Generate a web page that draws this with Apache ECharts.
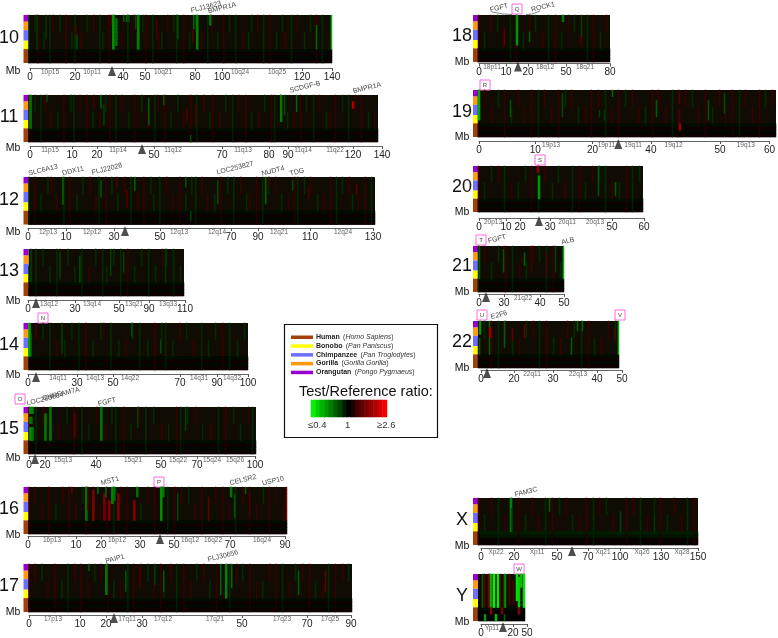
<!DOCTYPE html>
<html>
<head>
<meta charset="utf-8">
<style>html,body{margin:0;padding:0;background:#fff}#main{width:778px;height:638px}</style>
<script src="https://cdn.jsdelivr.net/npm/echarts@6/dist/echarts.min.js"></script>
</head>
<body>
<div id="main"></div>
<script>
// strong lines: [Mb, log2 ratio, first row, last row], rows 0-13 top to bottom
const chr10Cells = [[4,-.3,0,9],[8,-.3,0,6],[22,.45,3,6],[22.4,-.4,6,9],[38.4,.5,0,2],[39.1,-.8,0,9],[40.2,-.6,1,8],[44,-.5,0,1],[45.3,-.55,0,1],[46.5,-.45,0,1],[49.6,-.4,0,3],[50.3,-.7,0,9],[59.4,.4,1,6],[69,-.4,0,6],[75.7,.4,4,7],[76.3,-.55,0,3],[77.8,-.7,0,9],[83.4,-.6,0,2],[132.8,-.55,3,9],[139.9,-1,0,9]];
const chr11Cells = [[.7,-.65,0,9],[7.3,-.4,0,1],[26,.35,0,3],[29,-.5,0,3],[30,-.35,3,8],[48,-.5,1,8],[54,-.45,0,2],[63.5,.4,4,7],[67,.4,3,8],[101,-.65,0,7],[102.5,-.4,0,5],[107.5,-.55,0,4],[129.6,.9,2,3],[65,-.35,12,13]];
const chr12Cells = [[13,-.55,0,7],[27,-.45,1,5],[33,.4,0,2],[37,.45,4,8],[40,-.5,0,3],[59,-.45,0,2],[61,-.35,10,12],[71,-.4,1,7],[89,-.55,0,7],[90,.4,0,2],[99,-.4,1,3],[105,.4,3,6],[123,.5,2,4]];
const chr13Cells = [[2,-.35,0,9],[22,-.35,1,8],[36,-.4,2,9],[58,-.35,0,7],[67,-.35,1,6],[97,-.3,0,9]];
const chr14Cells = [[.3,-.9,0,9],[1,-.55,3,9],[3.3,.4,1,3],[15,-.35,0,8],[47,-.4,0,3],[60,-.4,5,8]];
const chr15Cells = [[.6,-.8,0,1],[1.6,-.7,0,1],[.6,-.7,3,4],[1.6,-.55,3,4],[.6,-.8,6,9],[1.6,-.65,6,9],[7.3,-.65,2,9],[9.5,-.65,0,9],[20.5,.5,2,8],[32,-.65,0,9],[48,-.35,0,5],[69,-.35,0,6]];
const chr16Cells = [[15,.5,0,1],[20,-.65,0,9],[20.6,.4,0,6],[22.4,.7,1,9],[24,-.55,0,1],[26.3,.65,2,9],[26.8,-.55,0,2],[28,.7,4,9],[29,-.7,0,4],[29.7,-.6,0,3],[31,.7,2,9],[36.5,.7,4,9],[37.7,-.6,0,2],[46,-.75,0,9],[46.6,-.65,0,2],[52,-.4,2,9],[62.6,.5,3,9],[70.5,-.6,0,2],[71.8,-.45,2,8],[75.5,-.5,0,1],[77,.4,2,7],[89.7,.6,0,9]];
const chr17Cells = [[16.7,-.5,0,1],[21.6,-.65,0,8],[27,-.45,2,7],[31,.4,1,6],[35,-.35,0,5],[37.6,-.5,2,7],[53.4,-.55,0,8],[54.8,-.7,0,9],[56.6,-.55,0,6],[75,-.5,2,8],[82.6,.5,2,7]];
const chr18Cells = [[16.2,.5,4,8],[23.3,-.8,0,8],[31.4,-.5,5,7],[51,-.65,0,1],[62.8,-.35,0,6],[62,.35,6,8]];
const chr19Cells = [[.2,-.9,0,8],[6.5,-.45,3,7],[17,-.4,1,7],[24.4,-.35,6,7],[25.5,-.3,6,8],[27,-.55,0,1],[36,-.5,3,7],[40.5,.45,1,3],[40.5,.4,6,9],[40.5,.8,10,11],[46.4,-.45,3,8],[49.7,-.4,1,6]];
const chr20Cells = [[21.8,.75,0,1],[22,-.8,3,9],[44,-.45,0,8],[50,-.5,5,8]];
const chr21Cells = [[1,-.5,0,9],[14.6,-.45,1,7],[27,-.5,2,5],[31,.35,0,7],[40,.35,2,8],[45,-.35,0,7],[49.7,-.95,0,9]];
const chr22Cells = [[.6,-.8,0,3],[.6,-.5,5,9],[4.1,-.55,0,1],[4.1,.8,2,4],[4.1,-.5,5,9],[9.5,-.5,0,7],[12.4,.5,2,5],[16.5,.55,1,4],[33,-.5,5,9],[35.4,-.5,0,2],[37.2,-.5,0,2],[48.5,.4,2,5],[49.9,-.9,0,9]];
const chrXCells = [[22,-.7,0,9],[23,-.4,3,9],[49,-.5,0,3],[97,-.35,4,9],[120,-.3,5,9]];
const chrYCells = [[4.4,-.5,0,9],[6.5,.5,0,9],[11,.6,0,9],[13.5,-.9,0,9],[16,-1.3,0,9],[20.5,-1.25,0,9],[24,.5,0,9],[28,-.7,0,9],[33,.45,0,8],[38,.4,2,8],[41,-1.2,0,7],[43,-1.1,1,9],[45.5,-1,0,3],[48,-1.2,0,9],[13.5,.7,10,11],[6.5,-.8,12,13],[19,-1,12,13],[25,.6,10,11],[43,.7,10,11],[28,-.5,12,13]];

// faint lines estimated by eye, one letter for about every 3 pixels along the chromosome:
// g/h/k green in rows 0-9 / 0-4 / 5-9, r/s/t red in the same rows
const chr10Faint = 'g.hr.k.gs.h.r.kg.t.h.s.gk.r.h.t.g.sk.hr.g.tk.s.hg.r.k.h.t.gs.k.r.h.g.t.kh.s.g.r.k.ht.g.s.k.h.r.g.t';
const chr11Faint = 'r.h.gs.t.k.r.hg.s.r.k.t.hr.g.s.k.r.h.t.gs.r.k.h.t.r.g.s.kr.t.h.g.s.r.k.t.h.rg.s.k.t.r.h.g.s.kt.r.h.g.s.r.k.t';
const chr12Faint = 'g.r.k.hs.t.g.r.k.h.s.tg.r.h.k.s.g.t.r.hk.g.s.t.r.k.hg.s.t.k.r.h.g.s.kt.r.g.h.s.k.t.rg.h.s.k.t.r.g.h.sk.t.r.g';
const chr13Faint = 'k.g.h.k.gs.h.k.g.t.h.gk.h.g.r.k.h.g.k.sh.g.k';
const chr14Faint = 'k.s.h.g.t.k.h.g.r.k.hs.g.k.t.h.g.k.r.hg.k.s.h.t.g.k.h.r.g.k.h';
const chr15Faint = 'r.g.s.k.t.h.r.g.k.s.t.hg.r.k.s.g.h.t.k.rg.h.s.k.t.g.r.h.k.sg';
const chr16Faint = 'r.s.t.r.k.s.r.t.hr.s.t.r.g.s.r.t.k.s.r.t.g.r.s.h.t.r.k.s.r.t.g.s.r.t.h.r.s.t';
const chr17Faint = 'r.s.h.t.r.k.g.s.r.t.h.s.r.k.t.g.r.s.h.t.rk.s.g.r.t.h.s.k.r.t.g.s.h.r.t.k.s.r.g.t.h.s.r.k.t.g.r.s.h';
const chr18Faint = 'r.k.s.h.t.g.r.k.s.h.t.g.r.k.s.h.t.g.r.k.s';
const chr19Faint = 'r.s.t.h.r.k.s.t.r.g.s.t.r.h.s.k.t.r.s.g.t.r.h.s.t.k.r.s.t.g.r.s.h.t.r.k.s.t.r.g.s.t.r.h.s';
const chr20Faint = 'r.k.h.s.g.t.k.h.r.g.s.k.h.t.g.r.k.s.h.g.t.k.r.g.h';
const chr21Faint = 'g.s.k.h.r.g.t.k.s.h.g.r.k';
const chr22Faint = 't.h.r.g.s.k.t.h.s.g.r.k.t.s.h.g.r.k.t.s.h';
const chrXFaint = 'r.k.s.g.t.h.r.k.s.t.g.r.h.s.k.t.r.g.s.h.t.k.r.s.g.t.h.r.k.s.t.g.r';
const chrYFaint = '';
// faint tint of a letter, which rows it touches, and its weaker tint in the human rows
const faintTint = {g: -.24, h: -.24, k: -.24, r: .3, s: .3, t: .3};
const faintRows = {g: [0, 9], h: [0, 4], k: [5, 9], r: [0, 9], s: [0, 4], t: [5, 9]};
const humanTint = {g: -.16, r: .18};
// whole rows with a steady tint [row, log2 ratio]
const humanRows = [[10,-.07],[11,.07],[12,-.05],[13,.07]];
const chrXRows = [[10,-.16],[11,-.1],[12,.06],[13,.06]];
const chrYRows = [[10,-.08],[11,0],[12,0],[13,0]];

const chr10Ticks = ['0','20','40','50','80','100','120','140'];
const chr11Ticks = ['0','10','20','50','70','80','90','120','140'];
const chr12Ticks = ['0','10','30','50','70','90','110','130'];
const chr13Ticks = ['0','30','50','90','110'];
const chr14Ticks = ['0','30','50','70','90','100'];
const chr15Ticks = ['0','20','40','50','70','100'];
const chr16Ticks = ['0','10','20','30','50','70','90'];
const chr17Ticks = ['0','10','20','30','50','70','90'];
const chr18Ticks = ['0','10','20','50','80'];
const chr19Ticks = ['0','10','20','40','50','60'];
const chr20Ticks = ['0','10','20','30','50','60'];
const chr21Ticks = ['0','30','40','50'];
const chr22Ticks = ['0','20','30','40','50'];
const chrXTicks = ['0','20','50','70','100','130','150'];
const chrYTicks = ['0','20','50'];

const chr10Bands = ['10p15','10p11','10q21','10q24','10q25'];
const chr11Bands = ['11p15','11p14','11q12','11q13','11q14','11q22'];
const chr12Bands = ['12p13','12p12','12q13','12q14','12q21','12q24'];
const chr13Bands = ['13q12','13q14','13q21','13q33'];
const chr14Bands = ['14q11','14q13','14q22','14q31','14q32'];
const chr15Bands = ['15q13','15q21','15q22','15q24','15q26'];
const chr16Bands = ['16p13','16p12','16q12','16q22','16q24'];
const chr17Bands = ['17p13','17q11','17q12','17q21','17q23','17q25'];
const chr18Bands = ['18p11','18q12','18q21'];
const chr19Bands = ['19p13','19p11','19q11','19q12','19q13'];
const chr20Bands = ['20p13','20q11','20q13'];
const chr21Bands = ['21q22'];
const chr22Bands = ['22q11','22q13'];
const chrXBands = ['Xp22','Xp11','Xq21','Xq26','Xq28'];
const chrYBands = ['Yp11'];

const legendSteps = [-1.3,-1.1,-.95,-.8,-.65,-.5,-.35,-.15,0,.15,.35,.5,.65,.8,.95,1.1,1.3];
const speciesNames = ['Human','Bonobo','Chimpanzee','Gorilla','Orangutan'];
const speciesLatin = ['Homo Sapiens','Pan Paniscus','Pan Troglodytes','Gorilla Gorilla','Pongo Pygmaeus'];

// layout, in page pixels
const speciesColors = ['#a0400a','#ffff00','#6f6fff','#ff9a10','#9a00cc'];
const speciesBar = [[4,.14],[3,.175],[2,.22],[1,.175],[0,.29]]; // colour index, share of the height, top first
const panels = [
  {n:'10',mb:140,cells:chr10Cells,faint:chr10Faint,ticks:chr10Ticks,bands:chr10Bands,x:[28.5,332],y:[15,63],ry:68,numY:38,mbY:71,tick:[30,75,123,145,195,222,302,332],band:[50,92,163,240,277],tri:112},
  {n:'11',mb:140,cells:chr11Cells,faint:chr11Faint,ticks:chr11Ticks,bands:chr11Bands,x:[28.5,378],y:[95,142],ry:146,numY:117,mbY:148,tick:[30,72,97,154,222,269,288,353,382],band:[50,118,173,243,303,335],tri:142},
  {n:'12',mb:130,cells:chr12Cells,faint:chr12Faint,ticks:chr12Ticks,bands:chr12Bands,x:[28.5,375],y:[177,224.5],ry:228,numY:200,mbY:232,tick:[28,66,114,160,231,258,310,373],band:[48,92,179,217,279,343],tri:125},
  {n:'13',mb:110,cells:chr13Cells,faint:chr13Faint,ticks:chr13Ticks,bands:chr13Bands,x:[28.5,184],y:[249,296],ry:300,numY:271,mbY:301,tick:[28,75,119,149,185],band:[49,92,134,168],tri:36},
  {n:'14',mb:100,cells:chr14Cells,faint:chr14Faint,ticks:chr14Ticks,bands:chr14Bands,x:[28.5,248],y:[323,370],ry:374,numY:345,mbY:375,tick:[28,77,113,180,217,248],band:[58,95,130,199,232],tri:36},
  {n:'15',mb:100,cells:chr15Cells,faint:chr15Faint,ticks:chr15Ticks,bands:chr15Bands,x:[28.5,256],y:[407,454],ry:456,numY:429,mbY:458,tick:[29,45,96,161,197,255],band:[63,133,178,212,235],tri:35},
  {n:'16',mb:90,cells:chr16Cells,faint:chr16Faint,ticks:chr16Ticks,bands:chr16Bands,x:[28.5,287],y:[487,534],ry:536,numY:509,mbY:535,tick:[28,76,101,140,174,230,285],band:[52,117,190,213,262],tri:160},
  {n:'17',mb:90,cells:chr17Cells,faint:chr17Faint,ticks:chr17Ticks,bands:chr17Bands,x:[28.5,352],y:[564,612],ry:615,numY:586,mbY:612,tick:[29,80,106,142,242,307,351],band:[53,127,163,215,282,330],tri:114},
  {n:'18',mb:80,cells:chr18Cells,faint:chr18Faint,ticks:chr18Ticks,bands:chr18Bands,x:[478,610],y:[15,62],ry:63.5,numY:36,mbY:62,tick:[479,506,528,566,610],band:[492,545,585],tri:518},
  {n:'19',mb:60,cells:chr19Cells,faint:chr19Faint,ticks:chr19Ticks,bands:chr19Bands,x:[478,776],y:[90,137],ry:141,numY:112,mbY:137,tick:[479,536,594,653,723,773],band:[552,608,635,676,749],tri:620},
  {n:'20',mb:60,cells:chr20Cells,faint:chr20Faint,ticks:chr20Ticks,bands:chr20Bands,x:[478,643],y:[166,212],ry:218,numY:187,mbY:212,tick:[479,506,520,550,612,644],band:[493,567,595],tri:539},
  {n:'21',mb:50,cells:chr21Cells,faint:chr21Faint,ticks:chr21Ticks,bands:chr21Bands,x:[478,564],y:[246,292],ry:294,numY:266,mbY:292,tick:[479,504,540,564],band:[523],tri:486},
  {n:'22',mb:50,cells:chr22Cells,faint:chr22Faint,ticks:chr22Ticks,bands:chr22Bands,x:[478,619],y:[321,368],ry:370,numY:342,mbY:368,tick:[481,514,553,597,622],band:[532,578],tri:487},
  {n:'X',mb:150,cells:chrXCells,faint:chrXFaint,rows:chrXRows,ticks:chrXTicks,bands:chrXBands,x:[478,698],y:[498,545],ry:548,numY:520,mbY:546,tick:[481,514,557,588,620,661,698],band:[496,537,603,642,682],tri:572},
  {n:'Y',mb:50,cells:chrYCells,faint:chrYFaint,rows:chrYRows,ticks:chrYTicks,bands:chrYBands,x:[478,525],y:[574,621],ry:624,numY:596,mbY:622,tick:[481,513,527],band:[492],tri:503}
];
const rowCount = 14;
const heatBg = '#100c03';
const font = '"Liberation Sans", Arial, sans-serif';

// gene names: [text, x, y]
const geneLabels = [['FLJ13623',206,7],['BMPR1A',222,8],['SCDGF-B',305,87],['BMPR1A',367,88],['SLC6A13',43,170],['DDX11',73,171],['FLJ22028',107,169],['LOC253827',235,168],['NUDT4',273,171],['TDG',297,172],['LOC283684',45,399],['CHRFAM7A',61,394],['FGFT',107,402],['MST1',110,481],['CELSR2',243,480],['USP10',273,481],['PAIP1',115,559],['FLJ30656',223,556],['FGFT',499,8],['ROCK1',543,7],['FGFT',497,239],['ALB',568,241],['E2F6',499,315],['FAM3C',526,492]];
const pinkBoxes = [['N',43,318],['O',20,399],['P',159,482],['Q',517,9],['R',485,85],['S',540,160],['T',481,240],['U',482,315],['V',620,315],['W',519,569]];

const grid = [], xAxis = [], yAxis = [], series = [], graphic = [], heatIndex = [];
const rowNames = Array.from({length: rowCount}, (_, i) => i);

panels.forEach(p => {
  const w = p.x[1] - p.x[0], nCol = Math.round(w);
  const colNames = Array.from({length: nCol}, (_, i) => i);
  const toCol = mb => Math.min(nCol - 1, Math.floor(mb / p.mb * nCol));
  // heat grid
  const g = grid.length;
  grid.push({left: p.x[0], top: p.y[0], width: w, height: p.y[1] - p.y[0], show: true, backgroundColor: heatBg, borderWidth: 0});
  xAxis.push({gridIndex: g, type: 'category', data: colNames, show: false});
  yAxis.push({gridIndex: g, type: 'category', data: rowNames, inverse: true, show: false});
  const data = [];
  (p.rows || humanRows).forEach(r => colNames.forEach(c => data.push([c, r[0], r[1]])));
  p.faint.split('').forEach((ch, i, all) => {
    if (ch === '.') return;
    const col = Math.floor(i / all.length * nCol), span = faintRows[ch];
    for (let r = span[0]; r <= span[1]; r++) data.push([col, r, faintTint[ch]]);
    if (humanTint[ch]) for (let r = 10; r < rowCount; r++) data.push([col, r, humanTint[ch]]);
  });
  p.cells.forEach(c => {
    for (let r = c[2]; r <= c[3]; r++) {
      const col = toCol(c[0]);
      data.push([col, r, c[1]]);
      // the strong ones are about two pixels wide
      if (Math.abs(c[1]) >= .6 && col + 1 < nCol) data.push([col + 1, r, c[1]]);
    }
  });
  heatIndex.push(series.length);
  series.push({type: 'heatmap', xAxisIndex: xAxis.length - 1, yAxisIndex: yAxis.length - 1, data: data, silent: true, animation: false, progressive: 0});

  // ruler grid
  const rg = grid.length, t0 = p.tick[0], t1 = p.tick[p.tick.length - 1];
  grid.push({left: t0, top: p.ry - 1, width: t1 - t0, height: 1});
  const lookup = {};
  p.tick.forEach((t, i) => { lookup[t] = p.ticks[i]; });
  xAxis.push({gridIndex: rg, type: 'value', min: t0, max: t1, position: 'bottom',
    axisLine: {show: true, onZero: false, lineStyle: {color: '#666', width: 1}},
    axisTick: {show: true, customValues: p.tick, length: 3, lineStyle: {color: '#555'}},
    axisLabel: {show: true, customValues: p.tick, margin: 4, fontSize: 10, fontFamily: font, color: '#222', hideOverlap: false, showMinLabel: true, showMaxLabel: true, formatter: v => lookup[v]},
    splitLine: {show: false}});
  yAxis.push({gridIndex: rg, type: 'value', min: 0, max: 1, show: false});
  const rx = xAxis.length - 1, ry = yAxis.length - 1;
  series.push({type: 'scatter', xAxisIndex: rx, yAxisIndex: ry, clip: false, silent: true, animation: false,
    symbol: 'triangle', symbolSize: [8, 10], symbolOffset: [0, 3], itemStyle: {color: '#222'}, data: [[p.tri, 0]]});
  series.push({type: 'scatter', xAxisIndex: rx, yAxisIndex: ry, clip: false, silent: true, animation: false, symbolSize: 0,
    label: {show: true, position: 'inside', offset: [0, 4], fontSize: 6.5, fontFamily: font, color: '#333', formatter: o => o.data[2]},
    data: p.bands.map((b, i) => [p.band[i], 0, b])});

  // species strip, number and Mb
  let top = p.y[0];
  const h = p.y[1] - p.y[0];
  speciesBar.forEach(s => {
    graphic.push({type: 'rect', shape: {x: p.x[0] - 5, y: top, width: 5, height: h * s[1]}, style: {fill: speciesColors[s[0]]}, silent: true});
    top += h * s[1];
  });
  const numX = p.x[0] < 100 ? 9 : 462;
  graphic.push({type: 'text', x: numX, y: p.numY, style: {text: p.n, fontSize: 18, fontFamily: font, fill: '#111', textAlign: 'center', textVerticalAlign: 'middle'}, silent: true});
  graphic.push({type: 'text', x: p.x[0] < 100 ? 13 : 462, y: p.mbY, style: {text: 'Mb', fontSize: 10.5, fontFamily: font, fill: '#111', textAlign: 'center', textVerticalAlign: 'middle'}, silent: true});
});

// colour key as one more heatmap
const lg = grid.length;
grid.push({left: 311, top: 400, width: 76, height: 17});
xAxis.push({gridIndex: lg, type: 'category', data: legendSteps.map((_, i) => i), show: false});
yAxis.push({gridIndex: lg, type: 'category', data: [0], show: false});
heatIndex.push(series.length);
series.push({type: 'heatmap', xAxisIndex: xAxis.length - 1, yAxisIndex: yAxis.length - 1, silent: true, animation: false, data: legendSteps.map((v, i) => [i, 0, v])});

geneLabels.forEach(l => graphic.push({type: 'text', x: l[1], y: l[2], rotation: 14 * Math.PI / 180, style: {text: l[0], fontSize: 7, fontFamily: font, fill: '#444', textAlign: 'center', textVerticalAlign: 'middle'}, silent: true}));
pinkBoxes.forEach(b => {
  graphic.push({type: 'rect', shape: {x: b[1] - 5, y: b[2] - 5, width: 10, height: 10}, style: {fill: '#fff', stroke: '#ff66e0', lineWidth: 1}, silent: true});
  graphic.push({type: 'text', x: b[1], y: b[2], style: {text: b[0], fontSize: 6, fontFamily: font, fill: '#444', textAlign: 'center', textVerticalAlign: 'middle'}, silent: true});
});
// little leader lines beside Q
graphic.push({type: 'polyline', shape: {points: [[492, 12], [503, 14], [512, 14.5]]}, style: {stroke: '#555', fill: null, lineWidth: .7}, silent: true});
graphic.push({type: 'polyline', shape: {points: [[526, 14.5], [532, 14], [540, 11]]}, style: {stroke: '#555', fill: null, lineWidth: .7}, silent: true});

// legend box
graphic.push({type: 'rect', shape: {x: 284.5, y: 324.5, width: 153, height: 113}, style: {fill: '#fff', stroke: '#111', lineWidth: 1.2}, z: -1, silent: true});
speciesNames.forEach((s, i) => {
  const y = 337 + i * 8.8;
  graphic.push({type: 'rect', shape: {x: 291, y: y - 1.5, width: 22, height: 3.5}, style: {fill: speciesColors[i]}, silent: true});
  graphic.push({type: 'text', x: 316, y: y, style: {rich: {b: {fontSize: 7, fontWeight: 'bold', fontFamily: font, fill: '#222'}, i: {fontSize: 7, fontStyle: 'italic', fontFamily: font, fill: '#333'}, n: {fontSize: 7, fontFamily: font, fill: '#333'}}, text: '{b|' + s + '} {n|(}{i|' + speciesLatin[i] + '}{n|)}', textVerticalAlign: 'middle'}, silent: true});
});
graphic.push({type: 'text', x: 299, y: 392, style: {text: 'Test/Reference ratio:', fontSize: 14.5, fontFamily: font, fill: '#111', textVerticalAlign: 'middle'}, silent: true});
[['≤0.4', 308], ['1', 345], ['≥2.6', 377]].forEach(l => graphic.push({type: 'text', x: l[1], y: 425, style: {text: l[0], fontSize: 9.5, fontFamily: font, fill: '#333', textVerticalAlign: 'middle'}, silent: true}));

const chart = echarts.init(document.getElementById('main'), null, {renderer: 'canvas'});
chart.setOption({
  animation: false,
  backgroundColor: '#fff',
  grid, xAxis, yAxis, series,
  visualMap: {show: false, type: 'continuous', min: -1.35, max: 1.35, dimension: 2, seriesIndex: heatIndex, calculable: false, inRange: {color: ['#00ff00', '#000000', '#ff0000']}},
  graphic: {elements: graphic}
});
</script>
</body>
</html>
